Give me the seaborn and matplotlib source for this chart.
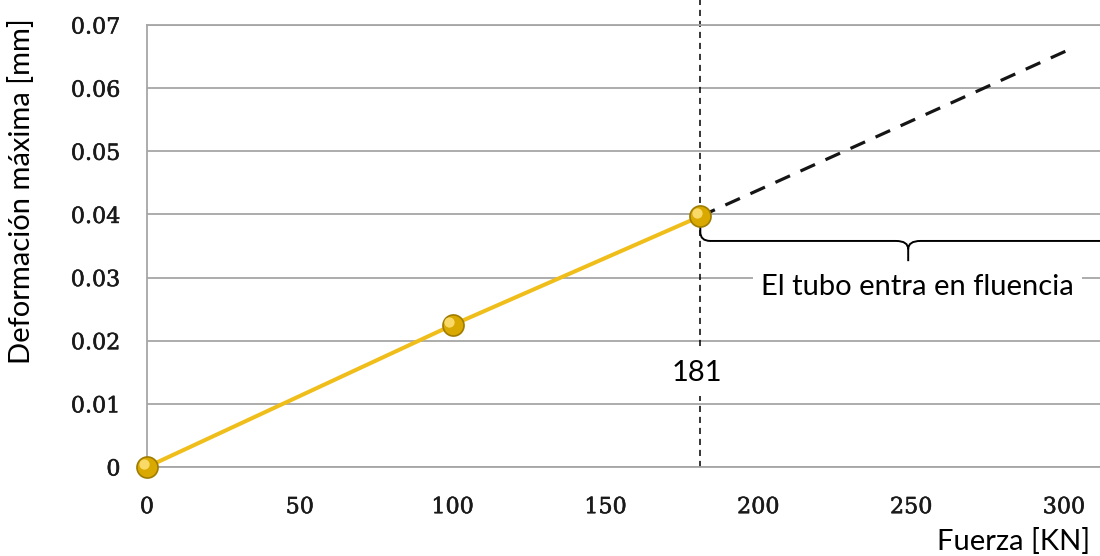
import numpy as np
import pandas as pd
import matplotlib
matplotlib.use("Agg")
import matplotlib.pyplot as plt
import seaborn as sns
from matplotlib.path import Path
from matplotlib.patches import PathPatch
import matplotlib.transforms as mtransforms
import matplotlib.patheffects as pe

# ----------------------------------------------------
# Data
# ----------------------------------------------------
fuerza = [0, 100, 181]                 # KN, FEM results
deformacion = [0.0, 0.0225, 0.0397]    # mm
fuerza_ext = [181, 303]                # extrapolated (yield region)
deformacion_ext = [0.0397, 0.0664]
fuerza_fluencia = 181
x_ticks = [0, 50, 100, 150, 200, 250, 300]
y_ticks = [0, 0.01, 0.02, 0.03, 0.04, 0.05, 0.06, 0.07]
y_ticklabels = ["0", "0.01", "0.02", "0.03", "0.04", "0.05", "0.06", "0.07"]

# ----------------------------------------------------
# Styling
# ----------------------------------------------------
sns.set_theme(style="white")
plt.rcParams["font.family"] = ["Lato", "DejaVu Sans"]

gold = "#F0BE1A"
grid_grey = "#A6A6A6"

fig = plt.figure(figsize=(11, 5.56), dpi=100)
ax = fig.add_axes([147 / 1100, 1 - 467 / 556, 1 - 147 / 1100, (467 - 25) / 556])

df = pd.DataFrame({"Fuerza": fuerza, "Deformacion": deformacion})
df_ext = pd.DataFrame({"Fuerza": fuerza_ext, "Deformacion": deformacion_ext})

# dashed extension
sns.lineplot(data=df_ext, x="Fuerza", y="Deformacion", color="#151515",
             linewidth=2.3, dashes=False, ax=ax, zorder=3)
ax.lines[-1].set_dashes((5, 3.6))

# main curve
sns.lineplot(data=df, x="Fuerza", y="Deformacion", color=gold,
             linewidth=2.9, ax=ax, zorder=4)

# sphere-like markers
ax.scatter(fuerza, deformacion, s=230, color="#D9A900", edgecolor="#A07C00",
           linewidth=1.2, zorder=6, clip_on=False)
hl = mtransforms.offset_copy(ax.transData, fig=fig, x=-2.4, y=2.4, units="points")
ax.scatter(fuerza, deformacion, s=55, color="#FFE27A", alpha=0.85,
           linewidth=0, zorder=7, transform=hl, clip_on=False)

# vertical yield line (reaches the top of the image)
ax.axvline(fuerza_fluencia, ymin=0, ymax=1.06, color="black", linewidth=1.1,
           dashes=(4, 3.2), clip_on=False, zorder=2)

# curly brace under the yield region
x_end = 317
mid = (fuerza_fluencia + x_end) / 2
y_line = 0.0358
verts = [
    (fuerza_fluencia, 0.0402), (fuerza_fluencia, 0.0372),
    (fuerza_fluencia, y_line), (fuerza_fluencia + 3.3, y_line),
    (mid - 4, y_line),
    (mid, y_line), (mid, 0.0345),
    (mid, 0.0326),
    (mid, 0.0345),
    (mid, y_line), (mid + 4, y_line),
    (x_end, y_line),
]
codes = [Path.MOVETO, Path.LINETO,
         Path.CURVE3, Path.CURVE3,
         Path.LINETO,
         Path.CURVE3, Path.CURVE3,
         Path.LINETO,
         Path.MOVETO,
         Path.CURVE3, Path.CURVE3,
         Path.LINETO]
ax.add_patch(PathPatch(Path(verts, codes), facecolor="none", edgecolor="black",
                       linewidth=1.4, zorder=5))

# annotations with white boxes
ax.text(mid + 3, 0.0285, "El tubo entra en fluencia", fontsize=21,
        ha="center", va="center", color="black", zorder=8,
        bbox=dict(facecolor="white", edgecolor="none", pad=6))
ax.text(fuerza_fluencia - 1, 0.0149, "181", fontsize=21, ha="center",
        va="center", color="black", zorder=8,
        bbox=dict(facecolor="white", edgecolor="none", pad=7))

# axes
ax.set_xlim(0, (1100 - 147) / 3.057)
ax.set_ylim(0, 0.07)
ax.set_xticks(x_ticks)
ax.set_yticks(y_ticks)
ax.set_yticklabels(y_ticklabels)
ax.grid(axis="y", color=grid_grey, linewidth=1.3)
ax.grid(axis="x", visible=False)
for side in ["top", "bottom", "left"]:
    ax.spines[side].set_color(grid_grey)
    ax.spines[side].set_linewidth(1.3)
ax.spines["right"].set_visible(False)
ax.tick_params(axis="both", length=0, labelsize=16, colors="#1a1a1a")
ax.tick_params(axis="x", pad=21)
ax.tick_params(axis="y", pad=19)
for lbl in ax.get_xticklabels() + ax.get_yticklabels():
    lbl.set_fontfamily("DejaVu Serif")
    lbl.set_path_effects([pe.withStroke(linewidth=0.4, foreground="#1a1a1a")])
ax.set_xlabel("")
ax.set_ylabel("")

fig.text(1090 / 1100, 1 - 541 / 556, "Fuerza [KN]", fontsize=21,
         ha="right", va="center", color="black")
fig.text(22 / 1100, 1 - 191 / 556, "Deformación máxima [mm]", fontsize=21,
         ha="center", va="center", rotation=90, color="black")

fig.savefig("out.png", dpi=100, facecolor="white")
